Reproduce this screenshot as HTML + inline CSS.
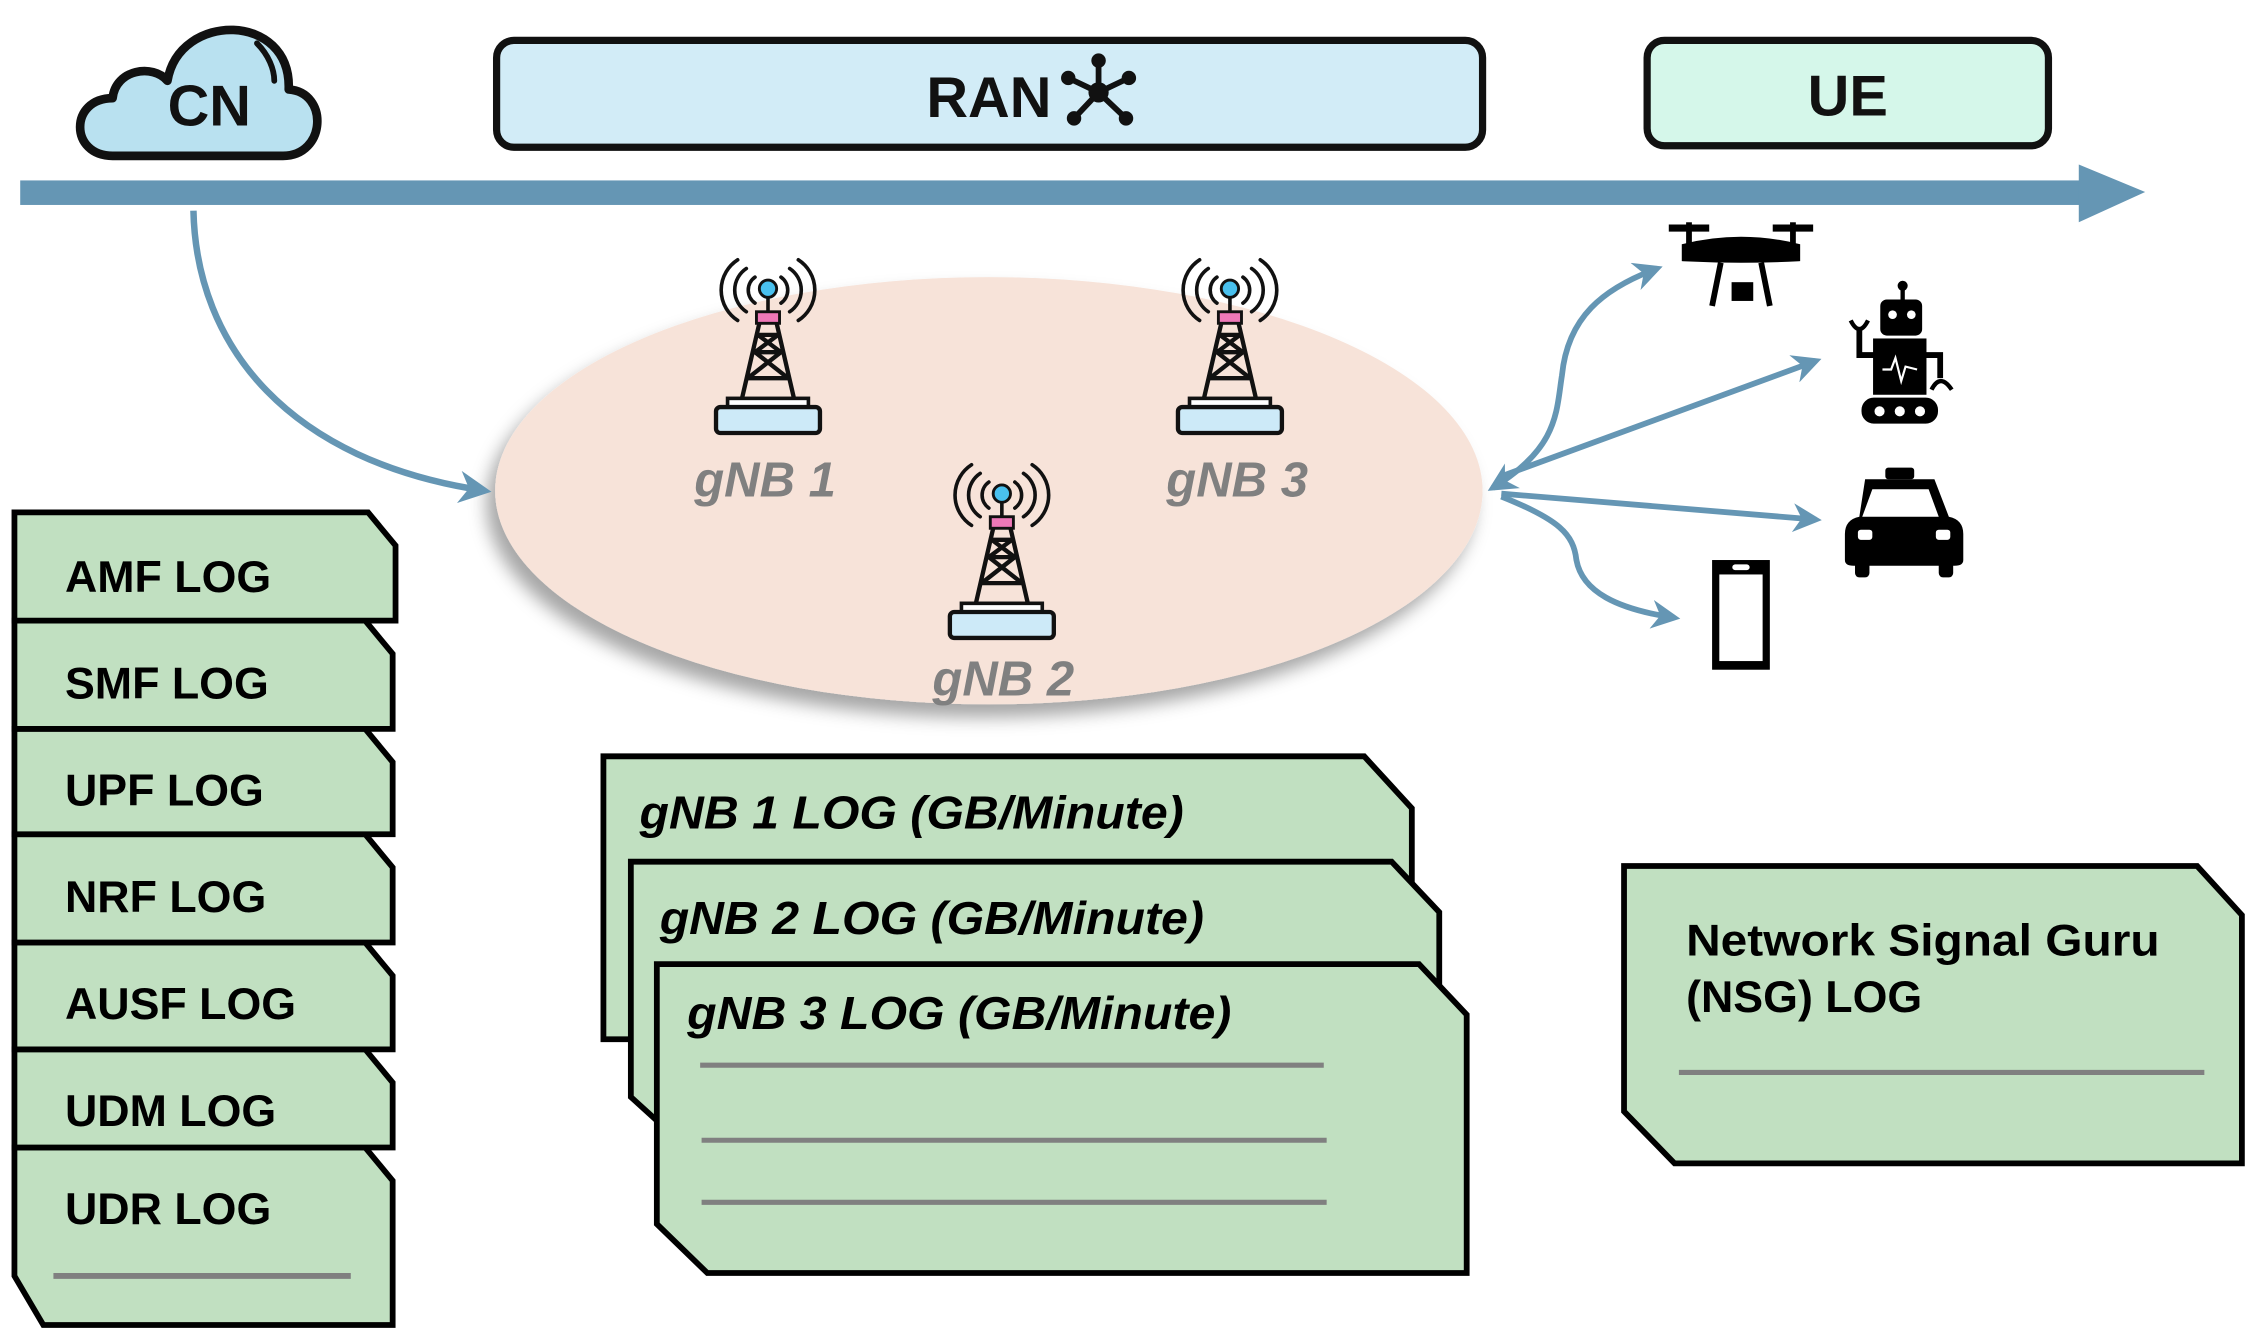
<!DOCTYPE html>
<html><head><meta charset="utf-8"><style>
html,body{margin:0;padding:0;background:#fff;}
svg{display:block;}
text{font-family:"Liberation Sans",Arial,sans-serif;}
</style></head><body>
<svg width="2252" height="1338" viewBox="0 0 1560 927" preserveAspectRatio="none" xmlns="http://www.w3.org/2000/svg">
<defs>
<marker id="ah" viewBox="0 0 10 10" refX="8" refY="5" markerWidth="5" markerHeight="5" orient="auto-start-reverse" markerUnits="strokeWidth">
<path d="M0,0 L10,5 L0,10 L3,5 Z" fill="#6596b4"/></marker>
<filter id="sh" x="-20%" y="-20%" width="140%" height="150%"><feDropShadow dx="-6" dy="9" stdDeviation="6" flood-color="#000" flood-opacity="0.35"/></filter>
<g id="tower">
<g fill="none" stroke="#111" stroke-width="2.5" stroke-linecap="round">
<path d="M31,16 A11,11 0 0 0 31,34"/><path d="M25,10 A18,18 0 0 0 25,40"/><path d="M19,4 A25,25 0 0 0 19,46"/>
<path d="M49,16 A11,11 0 0 1 49,34"/><path d="M55,10 A18,18 0 0 1 55,40"/><path d="M61,4 A25,25 0 0 1 61,46"/>
</g>
<circle cx="40" cy="24" r="6" fill="#49c0ee" stroke="#111" stroke-width="2"/>
<line x1="40" y1="30" x2="40" y2="40" stroke="#111" stroke-width="2.5"/>
<rect x="32" y="40" width="16" height="8" fill="#ee78b8" stroke="#111" stroke-width="2"/>
<g stroke="#111" stroke-width="3" fill="none">
<path d="M34,48 L22,100 M46,48 L58,100 M33,56 H47 M31,68 H49 M33,56 L49,68 M47,56 L31,68 M31,68 L54,86 M49,68 L26,86 M26,86 H54"/>
</g>
<rect x="12" y="100" width="56" height="6" fill="#fff" stroke="#111" stroke-width="2.5"/>
<rect x="4" y="106" width="72" height="18" rx="3" fill="#cdeaf8" stroke="#111" stroke-width="3"/>
</g>
</defs>

<!-- cloud -->
<path d="M78,108 C48,108 48,68 78,68 C80,48 106,44 116,56 C124,8 202,8 200,62 C228,64 226,108 196,108 Z" fill="#b9e1f0" stroke="#111" stroke-width="6" stroke-linejoin="round"/>
<path d="M178,30 C186,38 190,48 190,56" stroke="#111" stroke-width="4" fill="none" stroke-linecap="round"/>
<text x="145" y="87" font-size="40" font-weight="bold" text-anchor="middle" fill="#111">CN</text>

<!-- RAN box -->
<rect x="344" y="28" width="683" height="74" rx="12" fill="#d2ecf7" stroke="#111" stroke-width="5"/>
<text x="685" y="81" font-size="40" font-weight="bold" text-anchor="middle" fill="#111">RAN</text>
<g stroke="#111" stroke-width="4" stroke-linecap="round">
<line x1="761" y1="64" x2="761" y2="42"/><line x1="761" y1="64" x2="740" y2="54"/><line x1="761" y1="64" x2="782" y2="54"/>
<line x1="761" y1="64" x2="744" y2="82"/><line x1="761" y1="64" x2="780" y2="82"/></g>
<g fill="#111"><circle cx="761" cy="64" r="7"/><circle cx="761" cy="42" r="5"/><circle cx="740" cy="54" r="5"/><circle cx="782" cy="54" r="5"/><circle cx="744" cy="82" r="5"/><circle cx="780" cy="82" r="5"/></g>

<!-- UE box -->
<rect x="1141" y="28" width="278" height="73" rx="12" fill="#d5f7ea" stroke="#111" stroke-width="5"/>
<text x="1280" y="80" font-size="40" font-weight="bold" text-anchor="middle" fill="#111">UE</text>

<!-- axis -->
<rect x="14" y="125" width="1430" height="17" fill="#6596b4"/>
<path d="M1440,114 L1486,133 L1440,154 Z" fill="#6596b4"/>

<!-- ellipse -->
<ellipse cx="685" cy="340" rx="342" ry="148" fill="#f7e3d9" filter="url(#sh)"/>

<!-- CN curve -->
<path d="M134,146 C136,240 200,320 336,340" fill="none" stroke="#6596b4" stroke-width="4.5" marker-end="url(#ah)"/>

<!-- towers -->
<use href="#tower" x="492" y="176"/>
<use href="#tower" x="812" y="176"/>
<use href="#tower" x="654" y="318"/>
<g font-size="34" font-weight="bold" font-style="italic" fill="#808080">
<text x="530" y="344" text-anchor="middle">gNB 1</text>
<text x="857" y="344" text-anchor="middle">gNB 3</text>
<text x="695" y="482" text-anchor="middle">gNB 2</text>
</g>

<!-- UE arrows -->
<g fill="none" stroke="#6596b4" stroke-width="4">
<path d="M1034,338 C1080,310 1078,285 1082,260 C1086,220 1110,200 1148,186" marker-end="url(#ah)" marker-start="url(#ah)"/>
<path d="M1040,330 L1258,250" marker-end="url(#ah)"/>
<path d="M1040,342 L1258,360" marker-end="url(#ah)"/>
<path d="M1040,344 C1080,360 1090,370 1092,388 C1096,410 1120,422 1160,428" marker-end="url(#ah)"/>
</g>

<!-- drone -->
<g fill="#000" stroke="#000">
<line x1="1156" y1="158" x2="1184" y2="158" stroke-width="5"/><line x1="1228" y1="158" x2="1256" y2="158" stroke-width="5"/>
<line x1="1170" y1="154" x2="1170" y2="170" stroke-width="4"/><line x1="1242" y1="154" x2="1242" y2="170" stroke-width="4"/>
<path d="M1166,170 Q1206,160 1246,170 L1246,180 Q1206,182 1166,180 Z" stroke-width="2"/>
<path d="M1192,182 L1186,212 M1220,182 L1226,212" stroke-width="4" fill="none"/>
<rect x="1200" y="196" width="14" height="12" stroke-width="1"/>
</g>

<!-- robot -->
<g fill="#000" stroke="#000">
<line x1="1318" y1="196" x2="1318" y2="210" stroke-width="3"/><circle cx="1318" cy="198" r="3"/>
<rect x="1303" y="208" width="28" height="24" rx="4"/>
<rect x="1298" y="235" width="36" height="38"/>
<path d="M1298,246 H1288 V228" fill="none" stroke-width="4"/>
<path d="M1282,222 Q1288,234 1294,222" fill="none" stroke-width="3"/>
<path d="M1334,246 H1344 V262" fill="none" stroke-width="4"/>
<path d="M1338,270 Q1344,258 1352,270" fill="none" stroke-width="3"/>
<rect x="1290" y="276" width="52" height="17" rx="8"/>
</g>
<g fill="#fff"><circle cx="1311" cy="218" r="3"/><circle cx="1324" cy="218" r="3"/><circle cx="1302" cy="285" r="3.5"/><circle cx="1316" cy="285" r="3.5"/><circle cx="1330" cy="285" r="3.5"/></g>
<path d="M1304,256 H1310 L1313,248 L1317,264 L1320,254 L1328,256" stroke="#fff" stroke-width="1.5" fill="none"/>

<!-- car -->
<g fill="#000">
<rect x="1306" y="324" width="20" height="8" rx="2"/>
<path d="M1292,332 H1340 L1350,358 Q1360,360 1360,370 V388 Q1360,392 1354,392 H1284 Q1278,392 1278,388 V370 Q1278,360 1288,358 Z"/>
<rect x="1285" y="388" width="10" height="12" rx="3"/><rect x="1343" y="388" width="10" height="12" rx="3"/>
</g>
<path d="M1297,339 H1336 L1343,358 H1290 Z" fill="#fff"/>
<rect x="1287" y="367" width="10" height="7" rx="2" fill="#fff"/><rect x="1341" y="367" width="10" height="7" rx="2" fill="#fff"/>

<!-- phone -->
<rect x="1186" y="388" width="40" height="76" fill="#000"/>
<rect x="1191" y="398" width="30" height="60" fill="#fff"/>
<rect x="1200" y="391" width="12" height="4" rx="2" fill="#fff"/>

<!-- left log stack -->
<g fill="#c1e0c1" stroke="#000" stroke-width="4" stroke-linejoin="miter">
<path d="M10,795 H253 L272,818 V918 H30 L10,884 Z"/>
<path d="M10,727 H253 L272,750 V795 H10 Z"/>
<path d="M10,653 H253 L272,676 V727 H10 Z"/>
<path d="M10,578 H253 L272,601 V653 H10 Z"/>
<path d="M10,505 H253 L272,528 V578 H10 Z"/>
<path d="M10,430 H253 L272,453 V505 H10 Z"/>
<path d="M10,355 H255 L274,378 V430 H10 Z"/>
</g>
<g font-size="31" font-weight="bold" fill="#000">
<text x="45" y="410">AMF LOG</text>
<text x="45" y="484">SMF LOG</text>
<text x="45" y="558">UPF LOG</text>
<text x="45" y="632">NRF LOG</text>
<text x="45" y="706">AUSF LOG</text>
<text x="45" y="780">UDM LOG</text>
<text x="45" y="848">UDR LOG</text>
</g>
<line x1="37" y1="884" x2="243" y2="884" stroke="#808080" stroke-width="4"/>

<!-- gNB logs -->
<g fill="#c1e0c1" stroke="#000" stroke-width="4">
<path d="M418,524 H945 L978,560 V720 H418 V690 Z"/>
<path d="M437,597 H964 L997,632 V790 H470 L437,760 Z"/>
<path d="M455,668 H983 L1016,703 V882 H490 L455,848 Z"/>
</g>
<g font-size="32" font-weight="bold" font-style="italic" fill="#000">
<text x="443" y="574" textLength="377" lengthAdjust="spacingAndGlyphs">gNB 1 LOG (GB/Minute)</text>
<text x="457" y="647" textLength="377" lengthAdjust="spacingAndGlyphs">gNB 2 LOG (GB/Minute)</text>
<text x="476" y="713" textLength="377" lengthAdjust="spacingAndGlyphs">gNB 3 LOG (GB/Minute)</text>
</g>
<g stroke="#808080" stroke-width="3.5">
<line x1="485" y1="738" x2="917" y2="738"/><line x1="486" y1="790" x2="919" y2="790"/><line x1="486" y1="833" x2="919" y2="833"/>
</g>

<!-- NSG -->
<path d="M1125,600 H1522 L1553,634 V806 H1160 L1125,770 Z" fill="#c1e0c1" stroke="#000" stroke-width="4"/>
<g font-size="31" font-weight="bold" fill="#000">
<text x="1168" y="662" textLength="328" lengthAdjust="spacingAndGlyphs">Network Signal Guru</text>
<text x="1168" y="701">(NSG) LOG</text>
</g>
<line x1="1163" y1="743" x2="1527" y2="743" stroke="#808080" stroke-width="3.5"/>
</svg>
</body></html>
